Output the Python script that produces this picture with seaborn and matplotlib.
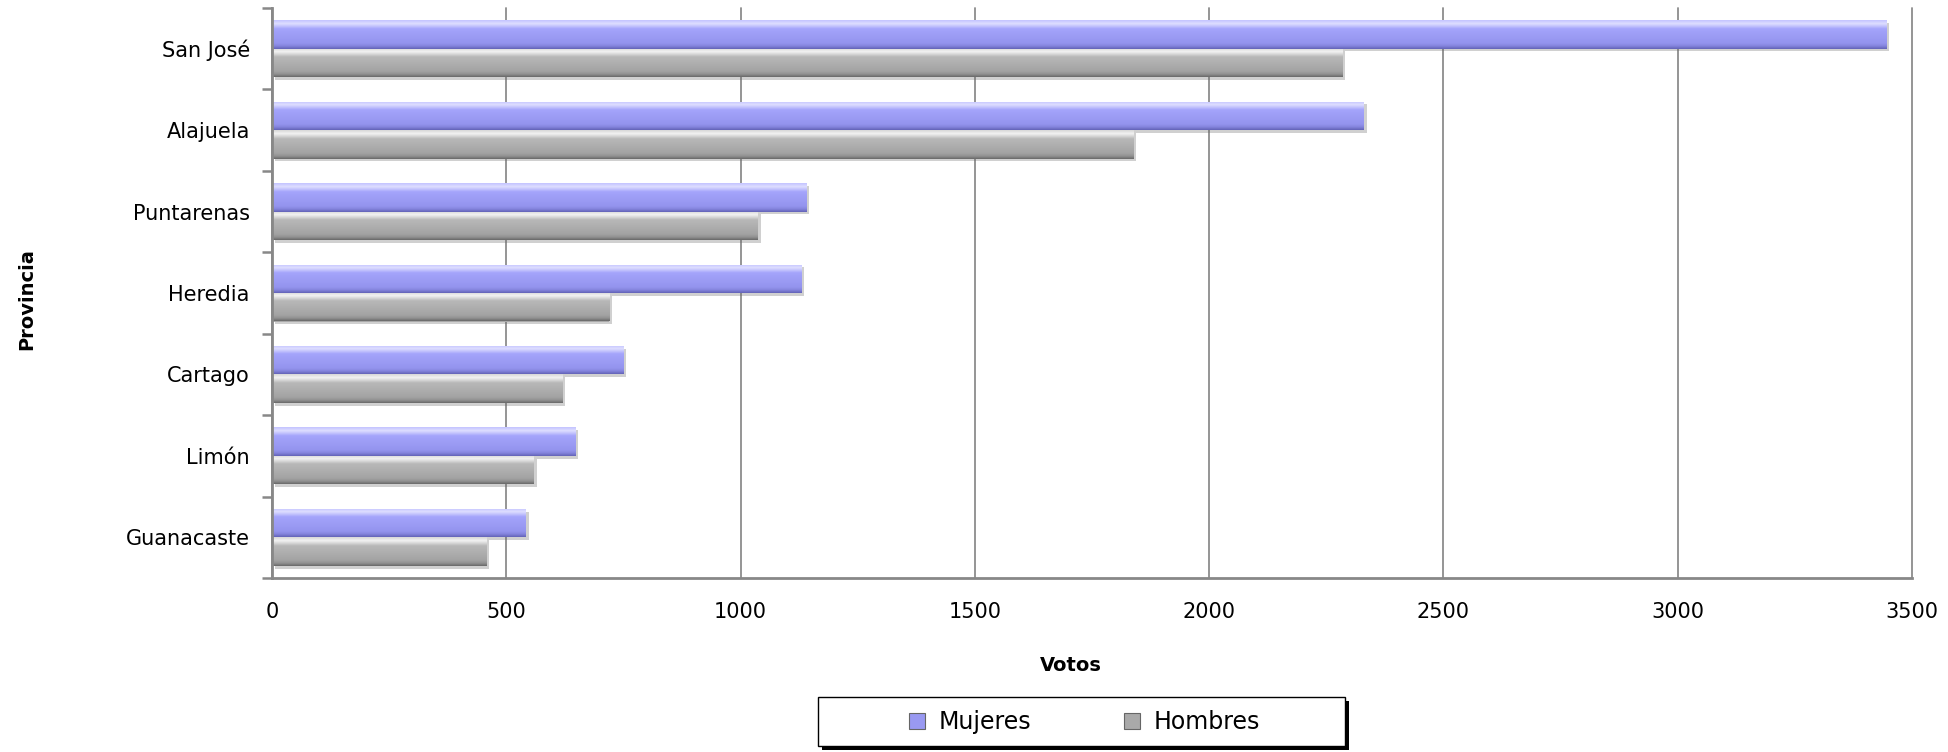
import numpy as np
import pandas as pd
import seaborn as sns
import matplotlib.pyplot as plt
import matplotlib.patheffects as pe
from matplotlib.patches import Patch, Rectangle
from matplotlib.colors import LinearSegmentedColormap

provincias = ['San José', 'Alajuela', 'Puntarenas', 'Heredia', 'Cartago', 'Limón', 'Guanacaste']
mujeres = [3446, 2330, 1141, 1129, 750, 648, 542]
hombres = [2284, 1838, 1037, 720, 619, 559, 458]
series = ['Mujeres', 'Hombres']
colores = ['#9999f2', '#a9a9a9']

df = pd.DataFrame({'Provincia': provincias, 'Mujeres': mujeres, 'Hombres': hombres})
df = df.melt(id_vars='Provincia', var_name='Sexo', value_name='Votos')

sns.set_style('white')
plt.rcParams['font.family'] = ['DejaVu Sans']
plt.rcParams['text.color'] = 'black'
plt.rcParams['axes.labelcolor'] = 'black'
plt.rcParams['xtick.labelcolor'] = 'black'
plt.rcParams['ytick.labelcolor'] = 'black'

fig = plt.figure(figsize=(19.49, 7.52), dpi=100)
ax = fig.add_axes([272 / 1949, 1 - 578 / 752, 1640 / 1949, 570 / 752])

sns.barplot(data=df, y='Provincia', x='Votos', hue='Sexo', hue_order=series,
            order=provincias, orient='h', width=0.7, palette=colores,
            edgecolor='none', legend=False, ax=ax)

# bevel-like shading on each bar (light top, flat body, dark bottom edge)
grads = {
    '#9999f2': LinearSegmentedColormap.from_list('m', [(0, '#c4c4ff'), (0.12, '#dedeff'), (0.3, '#a4a4fb'),
                                                      (0.8, '#9494ee'), (0.9, '#8585de'), (1, '#6464b8')]),
    '#a9a9a9': LinearSegmentedColormap.from_list('h', [(0, '#d8d8d8'), (0.12, '#f2f2f2'), (0.3, '#b8b8b8'),
                                                      (0.8, '#a3a3a3'), (0.9, '#939393'), (1, '#6a6a6a')]),
}
grad = np.linspace(0, 1, 64).reshape(-1, 1)
for i, bar in enumerate(list(ax.patches)):
    col = colores[0] if i < len(provincias) else colores[1]
    bar.set_path_effects([pe.SimplePatchShadow(offset=(2, -2), shadow_rgbFace='#666666', alpha=0.3), pe.Normal()])
    x0, y0 = bar.get_x(), bar.get_y()
    w, h = bar.get_width(), bar.get_height()
    im = ax.imshow(grad, extent=[x0, x0 + w, y0, y0 + h], aspect='auto',
                   cmap=grads[col], origin='lower', zorder=bar.get_zorder() + 0.1)
    im.set_clip_path(bar)

ax.set_xlim(0, 3500)
ax.set_ylim(len(provincias) - 0.5, -0.5)
ax.set_xticks(np.arange(0, 3501, 500))
ax.set_yticks(range(len(provincias)))
ax.set_yticklabels(provincias)
ax.set_yticks(np.arange(-0.5, len(provincias), 1), minor=True)

ax.grid(axis='x', color='#8c8c8c', linewidth=1.3)
ax.set_axisbelow(True)
for gl in ax.get_xgridlines():
    gl.set_clip_on(False)
for s in ['top', 'right']:
    ax.spines[s].set_visible(False)
for s in ['left', 'bottom']:
    ax.spines[s].set_color('#888888')
    ax.spines[s].set_linewidth(2)

ax.tick_params(axis='x', direction='out', length=7, width=1.5, color='#888888', labelsize=15, pad=10)
ax.tick_params(axis='y', which='major', left=True, length=0, labelsize=15, pad=16)
ax.tick_params(axis='y', which='minor', left=True, direction='out', length=7, width=1.8, color='#888888')

ax.set_xlabel('Votos', fontsize=14, fontweight='bold')
ax.set_ylabel('Provincia', fontsize=14, fontweight='bold')
ax.xaxis.set_label_coords(0.487, -0.137)
ax.yaxis.set_label_coords(-0.144, 0.49)

# legend box with black shadow
fig.patches.append(Rectangle((822 / 1949, 1 - 750 / 752), 527 / 1949, 49 / 752,
                             transform=fig.transFigure, facecolor='black', edgecolor='none', zorder=1))
fig.patches.append(Rectangle((818 / 1949, 1 - 746 / 752), 527 / 1949, 49 / 752,
                             transform=fig.transFigure, facecolor='white', edgecolor='black',
                             linewidth=1, zorder=2))
handles = [Patch(facecolor=c, edgecolor='#666666', linewidth=0.8) for c in colores]
leg = fig.legend(handles, series, loc='center', bbox_to_anchor=(0.5565, 1 - 722 / 752),
                 ncol=2, frameon=False, fontsize=17, handlelength=0.68, handleheight=0.68,
                 handletextpad=0.6, columnspacing=3.9, borderpad=0)
leg.set_zorder(3)

fig.savefig('out.png', dpi=100)
